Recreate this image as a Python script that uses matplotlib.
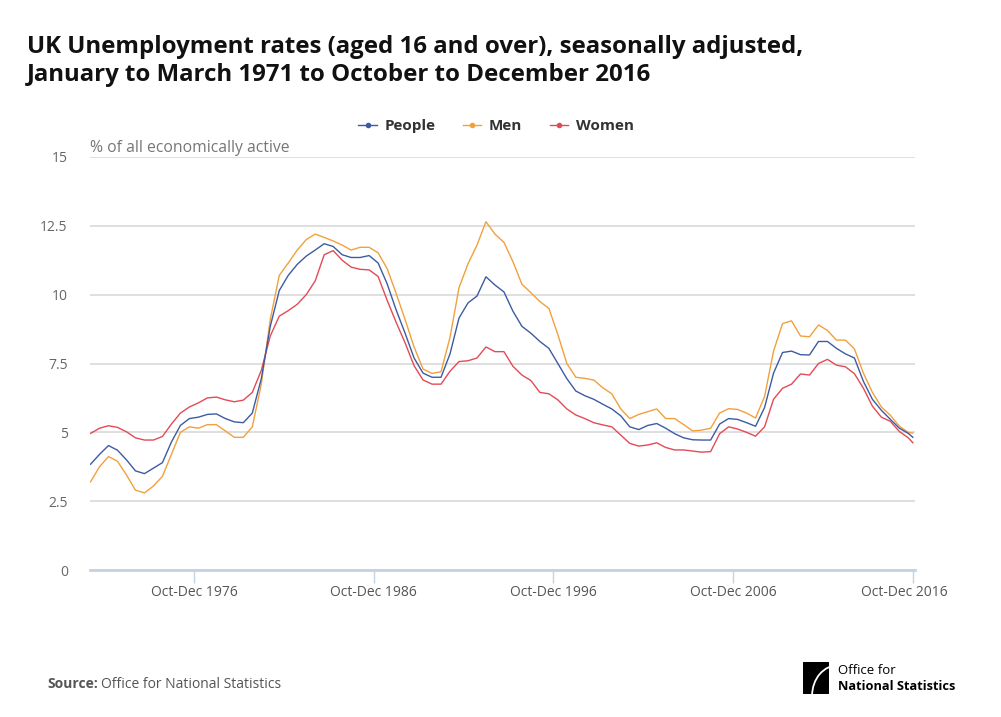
import numpy as np
import matplotlib
matplotlib.use('Agg')
import matplotlib.pyplot as plt
import matplotlib.transforms as mtransforms
from matplotlib.patches import FancyBboxPatch, Arc

plt.rcParams['font.family'] = ['Open Sans', 'DejaVu Sans']

# half-yearly readings, Jan-Mar 1971 .. Oct-Dec 2016 (decimal years, mid-quarter)
dates = [1971.08 + 0.5 * k for k in range(92)] + [2016.83]

people = [3.84, 4.2, 4.52, 4.35, 4.0, 3.6, 3.5, 3.7, 3.9, 4.65,
          5.25, 5.5, 5.55, 5.65, 5.67, 5.5, 5.38, 5.35, 5.7, 6.95,
          8.85, 10.15, 10.7, 11.1, 11.4, 11.62, 11.85, 11.75, 11.45, 11.35,
          11.35, 11.42, 11.15, 10.4, 9.45, 8.6, 7.7, 7.15, 7.0, 7.0,
          7.85, 9.15, 9.7, 9.95, 10.65, 10.35, 10.1, 9.4, 8.85, 8.6,
          8.3, 8.05, 7.5, 6.95, 6.5, 6.33, 6.2, 6.02, 5.85, 5.6,
          5.2, 5.1, 5.25, 5.32, 5.15, 4.95, 4.8, 4.73, 4.72, 4.72,
          5.3, 5.5, 5.47, 5.35, 5.22, 5.9, 7.15, 7.9, 7.95, 7.82,
          7.81, 8.3, 8.3, 8.05, 7.85, 7.7, 6.85, 6.2, 5.8, 5.47,
          5.15, 4.96, 4.82]

men = [3.2, 3.75, 4.12, 3.95, 3.45, 2.9, 2.8, 3.05, 3.4, 4.2,
       5.0, 5.2, 5.15, 5.28, 5.28, 5.05, 4.82, 4.82, 5.2, 6.75,
       9.1, 10.7, 11.15, 11.62, 12.0, 12.2, 12.08, 11.95, 11.8, 11.62,
       11.72, 11.72, 11.52, 10.95, 10.05, 9.1, 8.1, 7.3, 7.14, 7.2,
       8.45, 10.25, 11.12, 11.8, 12.65, 12.2, 11.9, 11.2, 10.38, 10.07,
       9.75, 9.5, 8.55, 7.5, 7.0, 6.96, 6.9, 6.62, 6.4, 5.85,
       5.5, 5.65, 5.75, 5.85, 5.5, 5.5, 5.28, 5.05, 5.08, 5.15,
       5.7, 5.86, 5.83, 5.7, 5.52, 6.3, 7.95, 8.95, 9.05, 8.5,
       8.47, 8.9, 8.7, 8.35, 8.35, 8.03, 7.15, 6.45, 5.92, 5.62,
       5.22, 5.0, 4.97]

women = [4.96, 5.15, 5.24, 5.18, 5.02, 4.8, 4.72, 4.72, 4.85, 5.3,
         5.7, 5.92, 6.07, 6.25, 6.28, 6.18, 6.11, 6.17, 6.45, 7.25,
         8.5, 9.22, 9.42, 9.65, 10.0, 10.5, 11.45, 11.6, 11.25, 11.0,
         10.92, 10.9, 10.66, 9.8, 9.0, 8.25, 7.42, 6.9, 6.75, 6.75,
         7.22, 7.57, 7.6, 7.7, 8.1, 7.93, 7.93, 7.4, 7.08, 6.88,
         6.45, 6.4, 6.18, 5.85, 5.63, 5.5, 5.35, 5.27, 5.2, 4.9,
         4.6, 4.5, 4.54, 4.62, 4.45, 4.36, 4.36, 4.32, 4.28, 4.3,
         4.95, 5.2, 5.12, 5.0, 4.86, 5.2, 6.2, 6.6, 6.75, 7.12,
         7.08, 7.5, 7.65, 7.44, 7.38, 7.13, 6.6, 5.95, 5.55, 5.4,
         5.03, 4.8, 4.62]

tick_pos = [1976.83, 1986.83, 1996.83, 2006.83, 2016.83]
tick_labels = ['Oct-Dec 1976', 'Oct-Dec 1986', 'Oct-Dec 1996', 'Oct-Dec 2006', 'Oct-Dec 2016']
y_ticks = [0, 2.5, 5, 7.5, 10, 12.5, 15]
y_labels = ['0', '2.5', '5', '7.5', '10', '12.5', '15']

c_people, c_men, c_women = '#3d5ba3', '#f2a03d', '#e34a55'

fig = plt.figure(figsize=(10.01, 7.17), dpi=100)
ax = fig.add_axes([90 / 1001, 147 / 717, 825 / 1001, 413 / 717])

ax.plot(dates, people, color=c_people, lw=1.0, label='People', zorder=3)
ax.plot(dates, men, color=c_men, lw=1.0, label='Men', zorder=2)
ax.plot(dates, women, color=c_women, lw=1.0, label='Women', zorder=2)

ax.set_xlim(1971.05, 2016.95)
ax.set_ylim(0, 15)
ax.set_yticks(y_ticks)
ax.set_yticklabels(y_labels, color='#666666', fontsize=10)
ax.set_xticks(tick_pos)
ax.set_xticklabels(tick_labels, color='#555555', fontsize=10)
ax.tick_params(axis='y', length=0, pad=16)
ax.tick_params(axis='x', length=9, color='#c5d2e0', width=1, pad=2)
# last label is pulled back inside the chart, as in the original
last = ax.get_xticklabels()[-1]
last.set_transform(last.get_transform() + mtransforms.ScaledTranslation(-0.09, 0, fig.dpi_scale_trans))
ax.grid(axis='y', color='#d9d9d9', lw=1.2)
ax.set_axisbelow(True)
for s in ['top', 'right', 'left']:
    ax.spines[s].set_visible(False)
ax.spines['bottom'].set_color('#c5d2e0')
ax.spines['bottom'].set_linewidth(2)

ax.text(0.0, 1.003, '% of all economically active', transform=ax.transAxes,
        color='#777777', fontsize=11.3, ha='left', va='bottom')

leg = fig.legend(handles=ax.lines, loc='center', bbox_to_anchor=(496 / 1001, 1 - 126 / 717),
                 ncol=3, frameon=False, handlelength=1.2, columnspacing=1.8,
                 handletextpad=0.5, prop={'weight': 'bold', 'size': 11})
for h in leg.legend_handles:
    h.set_marker('o')
    h.set_markersize(3)
for t in leg.get_texts():
    t.set_color('#333333')

fig.text(27 / 1001, 1 - 47 / 717, 'UK Unemployment rates (aged 16 and over), seasonally adjusted,',
         fontsize=17.3, weight='bold', color='#111111', va='center')
fig.text(27 / 1001, 1 - 75 / 717, 'January to March 1971 to October to December 2016',
         fontsize=17.3, weight='bold', color='#111111', va='center')

fig.text(47 / 1001, 1 - 684 / 717, 'Source:', fontsize=10, weight='bold', color='#555555', va='center')
fig.text(101 / 1001, 1 - 684 / 717, 'Office for National Statistics', fontsize=10, color='#555555', va='center')

# ONS logo
lax = fig.add_axes([803 / 1001, 1 - 694 / 717, 26 / 1001, 32 / 717])
lax.set_xlim(0, 1)
lax.set_ylim(0, 1)
lax.axis('off')
lax.add_patch(FancyBboxPatch((0, 0), 1, 1, boxstyle='round,pad=0,rounding_size=0.08',
                             color='black'))
lax.add_patch(Arc((1.35, -0.05), 2.0, 1.9, theta1=90, theta2=180, color='white', lw=1.3))
fig.text(838 / 1001, 1 - 670 / 717, 'Office for', fontsize=9.5, color='black', va='center')
fig.text(838 / 1001, 1 - 686 / 717, 'National Statistics', fontsize=9.2, weight='bold',
         color='black', va='center')

fig.savefig('out.png', dpi=100)
